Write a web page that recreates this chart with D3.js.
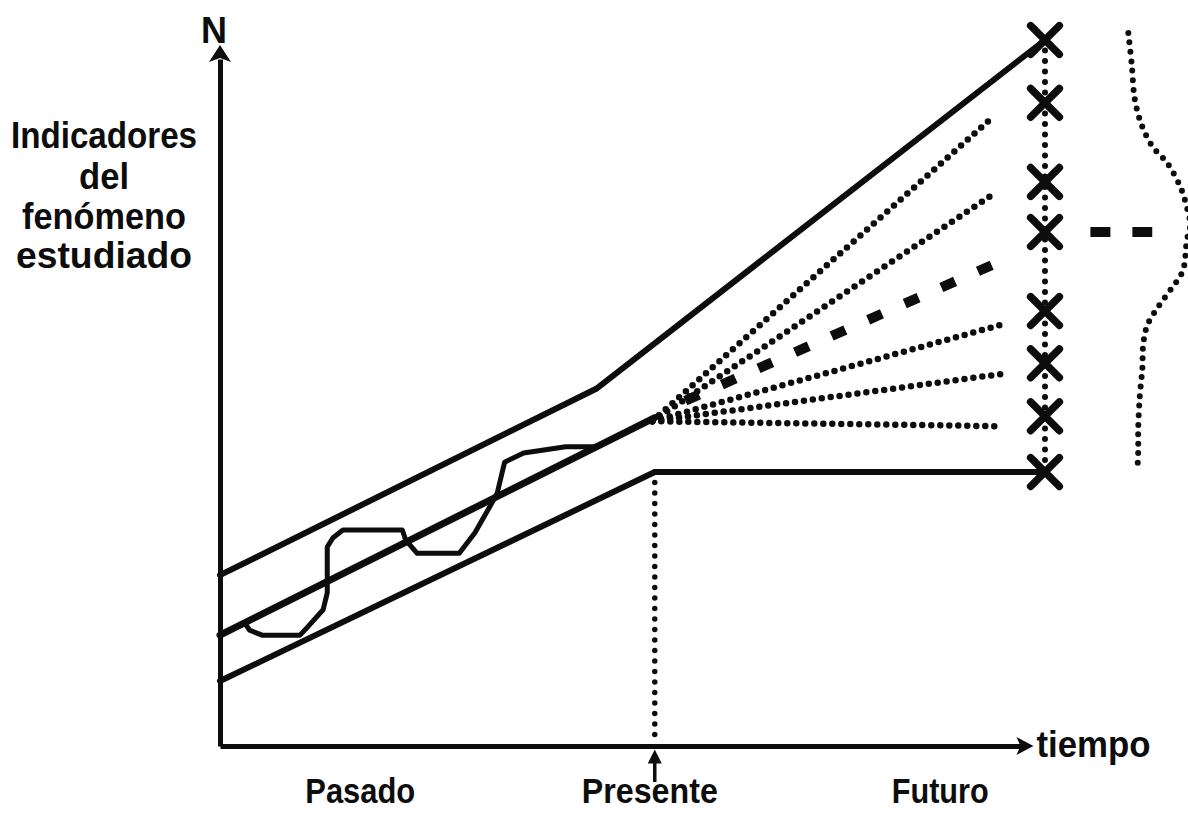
<!DOCTYPE html>
<html><head><meta charset="utf-8">
<script src="https://cdn.jsdelivr.net/npm/d3@7"></script>
<style>html,body{margin:0;padding:0;background:#fff;} svg{display:block;}</style>
</head><body>
<svg id="chart" width="1188" height="813"></svg>
<script>
// ---- data (time units 0..100 = past..future horizon, N units 0..100) ----
const timeLabels = ["Pasado", "Presente", "Futuro"];
const timeLabelX = [17, 52.1, 87.3];
const yTitleLines = ["Indicadores", "del", "fenómeno", "estudiado"];
const presentX = 52.7;
const upperTrend = [[0, 24.2], [45.6, 50.6], [100, 100]];
const middleTrend = [[0, 15.7], [52.7, 46.5]];
const lowerTrend = [[0, 9.2], [52.7, 38.8], [100, 38.8]];
const observed = [[3.0, 17.4], [3.6, 16.4], [5.1, 15.7], [9.7, 15.7], [10.5, 16.7], [12.5, 19.3],
  [13.0, 21.7], [13.0, 28.2], [13.7, 29.5], [14.9, 30.6], [22.1, 30.6], [22.5, 29.2], [23.9, 27.3],
  [29.0, 27.3], [30.9, 30.2], [32.7, 33.9], [33.6, 35.8], [34.5, 40.2], [36.8, 41.5], [41.9, 42.4], [45.7, 42.4]];
const fanOrigin = [52.4, 46.0];
const fanDottedEnds = [[93.6, 89.0], [93.9, 78.3], [94.5, 59.6], [94.8, 52.7], [94.2, 45.3]];
const fanDashedStart = [56.4, 48.9];
const fanDashedEnd = [94.5, 68.6];
const futureX = 100;
const scenarioY = [100, 91.1, 79.9, 72.8, 61.6, 54.2, 46.7, 38.8];
const dashTail = [[105.5, 72.8], [113, 72.8]];
const densityCurve = [[110.1, 101.0], [110.5, 96.7], [110.9, 91.5], [111.8, 87.7], [113.1, 84.8],
  [114.8, 82.6], [116.4, 79.2], [117.2, 76.3], [117.6, 73.8], [117.2, 71.7], [116.7, 67.3],
  [115.2, 64.6], [113.6, 62.0], [112.4, 59.6], [111.9, 56.8], [111.8, 53.5], [111.5, 49.7],
  [111.3, 45.0], [111.3, 41.8], [111.2, 39.1]];
const xAxisEnd = 98.6;
const yAxisEnd = 99.3;

// ---- drawing ----
const svg = d3.select("#chart");
const ink = "#0d0d0d";
const FONT = "'Liberation Sans Narrow','Arial Narrow','Liberation Sans',Arial,sans-serif";
const x = d3.scaleLinear().domain([0, 100]).range([220, 1045]);
const y = d3.scaleLinear().domain([0, 100]).range([746, 40]);
const line = d3.line().x(d => x(d[0])).y(d => y(d[1]));

svg.append("rect").attr("width", 1188).attr("height", 813).attr("fill", "#fff");

// axes (no ticks), using d3 axis generators
const xAxisScale = d3.scaleLinear().domain([0, xAxisEnd - 1.4]).range([x(0), x(xAxisEnd - 1.4)]);
const yAxisScale = d3.scaleLinear().domain([0, yAxisEnd - 2]).range([y(0), y(yAxisEnd - 2)]);
const gx = svg.append("g").attr("transform", `translate(0,${y(0)})`)
  .call(d3.axisBottom(xAxisScale).tickValues([]).tickSizeOuter(0));
const gy = svg.append("g").attr("transform", `translate(${x(0)},0)`)
  .call(d3.axisLeft(yAxisScale).tickValues([]).tickSizeOuter(0));
[gx, gy].forEach(g => g.select(".domain").attr("stroke", ink).attr("stroke-width", 5));

// arrowheads
const tipX = x(xAxisEnd), ay = y(0);
svg.append("path").attr("d", `M${tipX},${ay} L${tipX - 17},${ay - 9} L${tipX - 13},${ay} L${tipX - 17},${ay + 9} Z`).attr("fill", ink);
const tipY = y(yAxisEnd), ax = x(0);
svg.append("path").attr("d", `M${ax},${tipY} L${ax - 11},${tipY + 17} L${ax},${tipY + 13} L${ax + 11},${tipY + 17} Z`).attr("fill", ink);

// solid trend lines
[upperTrend, middleTrend, lowerTrend].forEach((d, i) =>
  svg.append("path").attr("d", line(d)).attr("fill", "none").attr("stroke", ink)
    .attr("stroke-width", i === 1 ? 7 : 6).attr("stroke-linejoin", "round").attr("stroke-linecap", "round"));

// observed (historical) path
svg.append("path").attr("d", line(observed)).attr("fill", "none").attr("stroke", ink)
  .attr("stroke-width", 5).attr("stroke-linejoin", "round");

// fan of dotted futures
fanDottedEnds.forEach(e =>
  svg.append("path").attr("d", line([fanOrigin, e])).attr("fill", "none").attr("stroke", ink)
    .attr("stroke-width", 6.5).attr("stroke-linecap", "round").attr("stroke-dasharray", "0 9"));

// thick dashed future
svg.append("path").attr("d", line([fanDashedStart, fanDashedEnd])).attr("fill", "none").attr("stroke", ink)
  .attr("stroke-width", 10).attr("stroke-dasharray", "15 25");
svg.append("path").attr("d", line(dashTail)).attr("fill", "none").attr("stroke", ink)
  .attr("stroke-width", 10).attr("stroke-dasharray", "20 22");

// present marker: dotted vertical and arrow below axis
svg.append("path").attr("d", line([[presentX, 38.8], [presentX, 0.6]])).attr("fill", "none")
  .attr("stroke", ink).attr("stroke-width", 5.5).attr("stroke-linecap", "round").attr("stroke-dasharray", "0 10.5");
const px = x(presentX);
svg.append("line").attr("x1", px).attr("x2", px).attr("y1", y(-5.1)).attr("y2", y(-1.5))
  .attr("stroke", ink).attr("stroke-width", 3.5);
svg.append("path").attr("d", `M${px},${y(-0.5)} L${px - 7},${y(-0.5) + 14} L${px + 7},${y(-0.5) + 14} Z`).attr("fill", ink);

// vertical dotted connector of future scenarios
svg.append("path").attr("d", line([[futureX, scenarioY[0]], [futureX, scenarioY[scenarioY.length - 1]]]))
  .attr("fill", "none").attr("stroke", ink).attr("stroke-width", 6).attr("stroke-linecap", "round")
  .attr("stroke-dasharray", "0 10.5");

// scenario X marks
svg.selectAll(".xmark").data(scenarioY).join("path").attr("class", "xmark")
  .attr("transform", d => `translate(${x(futureX)},${y(d)})`)
  .attr("d", d3.symbol(d3.symbolTimes, 540)())
  .attr("fill", "none").attr("stroke", ink).attr("stroke-width", 7.5).attr("stroke-linecap", "round");

// density curve (dotted)
svg.append("path").attr("d", d3.line().curve(d3.curveCatmullRom).x(d => x(d[0])).y(d => y(d[1]))(densityCurve))
  .attr("fill", "none").attr("stroke", ink).attr("stroke-width", 6).attr("stroke-linecap", "round")
  .attr("stroke-dasharray", "0 9.5");

// texts
function label(t, cx, by, size, len, anchor) {
  svg.append("text").attr("x", cx).attr("y", by).attr("text-anchor", anchor || "middle")
    .attr("font-family", FONT).attr("font-weight", "bold").attr("font-size", size)
    .attr("fill", ink).attr("textLength", len).attr("lengthAdjust", "spacingAndGlyphs").text(t);
}
label("N", x(0) - 6, 43, 36, 26);
const titleLens = [186, 50, 164, 176];
const titleBase = [148, 189, 229, 268];
yTitleLines.forEach((t, i) => label(t, 104, titleBase[i], 36, titleLens[i]));
const timeLens = [110, 136, 97];
timeLabels.forEach((t, i) => label(t, x(timeLabelX[i]), 803, 35, timeLens[i]));
label("tiempo", tipX + 3, 757, 37, 114, "start");
</script>
</body></html>
